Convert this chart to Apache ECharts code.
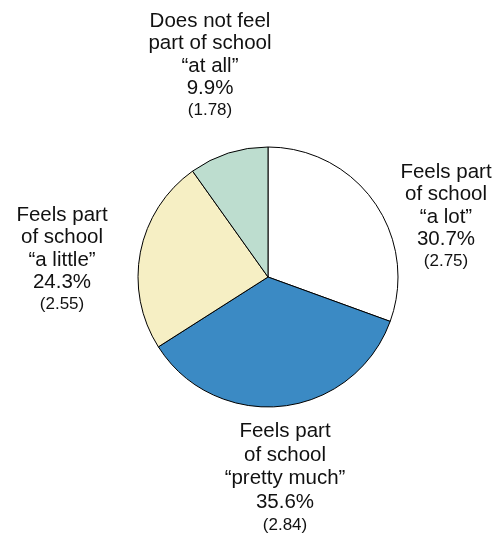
<!DOCTYPE html>
<html>
<head>
<meta charset="utf-8">
<script src="https://cdn.jsdelivr.net/npm/echarts@6/dist/echarts.min.js"></script>
<style>html,body{margin:0;padding:0;background:#fff;}#c{width:504px;height:542px;}</style>
</head>
<body>
<div id="c"></div>
<script>
const labelLine1 = ['Feels part', 'Feels part', 'Feels part', 'Does not feel'];
const labelLine2 = ['of school', 'of school', 'of school', 'part of school'];
const labelLine3 = ['\u201ca lot\u201d', '\u201cpretty much\u201d', '\u201ca little\u201d', '\u201cat all\u201d'];
const percents = [30.7, 35.6, 24.3, 9.9];
const stdErrors = ['2.75', '2.84', '2.55', '1.78'];
const sliceColors = ['#ffffff', '#3b8ac4', '#f6efc4', '#bdddcf'];

const labelPos = [
  {x: 446, y: 161},
  {x: 285, y: 420},
  {x: 62, y: 204},
  {x: 210, y: 10}
];

const data = percents.map((v, i) => ({
  value: v,
  name: labelLine1[i] + ' ' + labelLine2[i] + ' ' + labelLine3[i],
  itemStyle: {color: sliceColors[i]}
}));

const FONT = 'Arial, "Liberation Sans", sans-serif';
const chart = echarts.init(document.getElementById('c'));
chart.setOption({
  animation: false,
  series: [{
    type: 'pie',
    center: [268, 277],
    radius: 130,
    startAngle: 90,
    clockwise: true,
    data: data,
    itemStyle: {borderColor: '#000', borderWidth: 1},
    labelLine: {show: false},
    label: {
      show: true,
      position: 'outside',
      width: 240,
      overflow: 'none',
      fontFamily: FONT,
      color: '#111',
      align: 'center',
      formatter: function (p) {
        const i = p.dataIndex;
        const m = i === 1 ? 'c' : 'a';
        const s = i === 1 ? 'd' : 'b';
        return '{' + m + '|' + labelLine1[i] + '}\n{' + m + '|' + labelLine2[i] + '}\n{' + m + '|' + labelLine3[i] + '}\n{' + m + '|' + percents[i].toFixed(1) + '%}\n{' + s + '|(' + stdErrors[i] + ')}';
      },
      rich: {
        a: {fontSize: 20.5, lineHeight: 22.5, fontFamily: FONT, color: '#111', align: 'center'},
        b: {fontSize: 17, lineHeight: 21, fontFamily: FONT, color: '#111', align: 'center'},
        c: {fontSize: 20.5, lineHeight: 23.5, fontFamily: FONT, color: '#111', align: 'center'},
        d: {fontSize: 17, lineHeight: 22, fontFamily: FONT, color: '#111', align: 'center'}
      }
    },
    labelLayout: function (params) {
      const p = labelPos[params.dataIndex];
      return {x: p.x, y: p.y, align: 'center', verticalAlign: 'top'};
    },
    emphasis: {disabled: true}
  }]
});
</script>
</body>
</html>
